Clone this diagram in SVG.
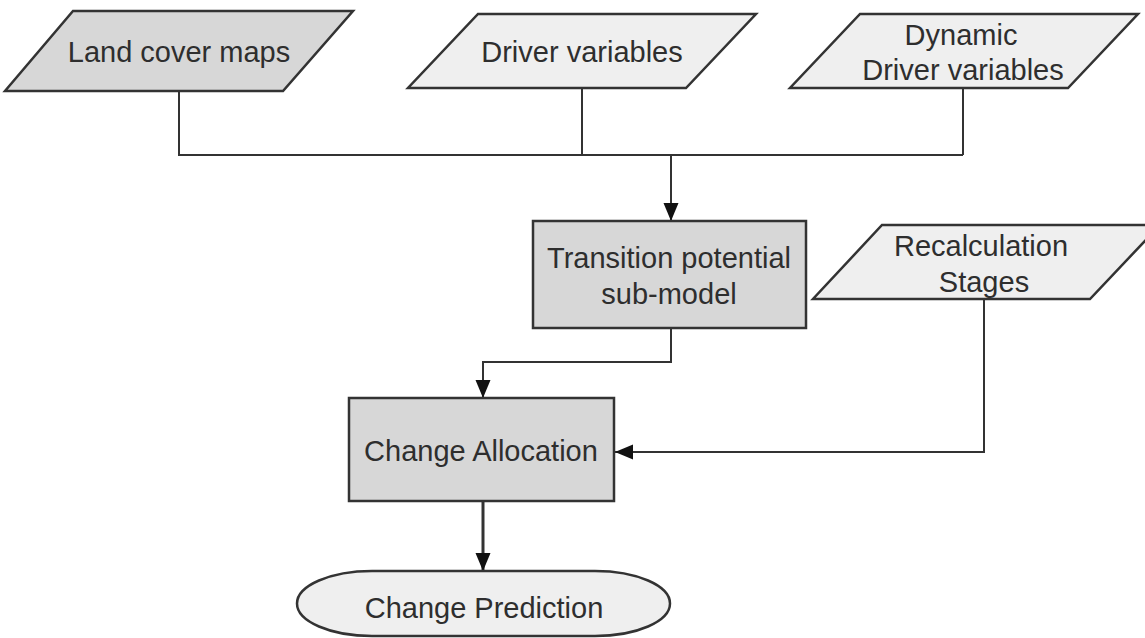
<svg xmlns="http://www.w3.org/2000/svg" width="1145" height="638" viewBox="0 0 1145 638">
  <style>
    .dark { fill: #d7d7d7; stroke: #333333; stroke-width: 2.5; }
    .light { fill: #efefef; stroke: #333333; stroke-width: 2.5; }
    .lbl { font-family: "Liberation Sans", Arial, sans-serif; font-size: 29px; fill: #2e2e2e; text-anchor: middle; }
    .conn { fill: none; stroke: #333333; stroke-width: 2; }
  </style>
  <defs>
    <marker id="arrow" markerUnits="userSpaceOnUse" markerWidth="18" markerHeight="18" viewBox="0 0 18 18" refX="18" refY="9" orient="auto">
      <path d="M0,1.5 L18,9 L0,16.5 Z" fill="#111111"/>
    </marker>
  </defs>
  <rect width="1145" height="638" fill="#ffffff"/>

  <g id="connectors">
    <path class="conn" d="M179,91 V155 H963"/>
    <path class="conn" d="M582,88 V155"/>
    <path class="conn" d="M963,88 V155"/>
    <path class="conn" d="M671,155 V221" marker-end="url(#arrow)"/>
    <path class="conn" d="M671,328 V362 H483 V398" marker-end="url(#arrow)"/>
    <path class="conn" d="M984,299 V452 H615" marker-end="url(#arrow)"/>
    <path class="conn" style="stroke-width:3" d="M483,501 V571" marker-end="url(#arrow)"/>
  </g>

  <g id="land-cover-maps">
    <polygon class="dark" points="73,11 353,11 283,91 5,91"/>
    <text class="lbl" x="179" y="62">Land cover maps</text>
  </g>

  <g id="driver-variables">
    <polygon class="light" points="478,14 756,14 686,88 408,88"/>
    <text class="lbl" x="582" y="62">Driver variables</text>
  </g>

  <g id="dynamic-driver-variables">
    <polygon class="light" points="860,14 1138,14 1068,88 790,88"/>
    <text class="lbl" x="961" y="45">Dynamic</text>
    <text class="lbl" x="963" y="80">Driver variables</text>
  </g>

  <g id="transition-potential">
    <rect class="dark" x="533" y="221" width="273" height="107"/>
    <text class="lbl" x="669" y="268">Transition potential</text>
    <text class="lbl" x="669" y="304">sub-model</text>
  </g>

  <g id="recalculation-stages">
    <polygon class="light" points="882,225 1160,225 1090,299 813,299"/>
    <text class="lbl" x="981" y="256">Recalculation</text>
    <text class="lbl" x="984" y="292">Stages</text>
  </g>

  <g id="change-allocation">
    <rect class="dark" x="349" y="398" width="265" height="103"/>
    <text class="lbl" x="481" y="461">Change Allocation</text>
  </g>

  <g id="change-prediction">
    <rect class="light" x="297" y="571" width="373" height="65" rx="75" ry="32.5"/>
    <text class="lbl" x="484" y="618">Change Prediction</text>
  </g>
</svg>
